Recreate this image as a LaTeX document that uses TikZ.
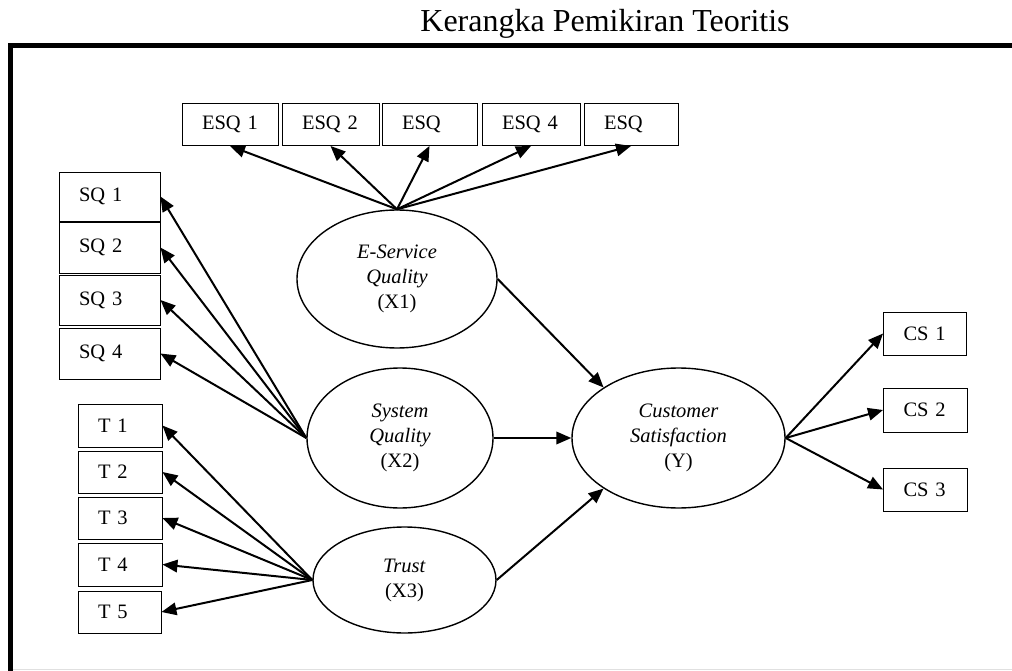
\documentclass[tikz,border=0pt]{standalone}
\usepackage{fontspec}
\setmainfont{Liberation Serif}
\usetikzlibrary{arrows.meta,shapes.geometric}

\begin{document}
\begin{tikzpicture}[x=1pt,y=-1pt,font=\fontsize{20.5}{25}\selectfont,
  box/.style={draw,line width=0.9pt,inner xsep=20pt,inner ysep=0pt,align=left},
  latent/.style={draw,ellipse,line width=1.4pt,inner sep=0pt,align=center},
  link/.style={line width=2pt,-{Triangle[length=15pt,width=12.5pt]}}]
  \useasboundingbox (0,0) rectangle (1012,671);
  \node[anchor=base,font=\fontsize{32}{34}\selectfont] (title) at (605,32)
    {Kerangka Pemikiran Teoritis};
  \draw[line width=5pt] (1012,46) -- (10.5,46) -- (10.5,671);
  \draw[black!12,line width=1.2pt] (13,669.5) -- (1012,669.5);

  \node[box,text width=56pt,minimum height=42pt] (esq1) at (230,124.5) {ESQ 1};
  \node[box,text width=57pt,minimum height=42pt] (esq2) at (330.5,124.5) {ESQ 2};
  \node[box,text width=55pt,minimum height=42pt] (esq3) at (429.5,124.5) {ESQ};
  \node[box,text width=58pt,minimum height=42pt] (esq4) at (531,124.5) {ESQ 4};
  \node[box,text width=54pt,minimum height=42pt] (esq5) at (631,124.5) {ESQ};

  \node[box,text width=61pt,minimum height=49pt] (sq1) at (109.5,196.5) {SQ 1};
  \node[box,text width=61pt,minimum height=51pt] (sq2) at (109.5,247.5) {SQ 2};
  \node[box,text width=61pt,minimum height=50pt] (sq3) at (109.5,300) {SQ 3};
  \node[box,text width=61pt,minimum height=51pt] (sq4) at (109.5,353.5) {SQ 4};

  \node[box,text width=44pt,minimum height=43pt] (t1) at (120,425.5) {T 1};
  \node[box,text width=44pt,minimum height=42pt] (t2) at (120,472) {T 2};
  \node[box,text width=44pt,minimum height=42pt] (t3) at (120,518) {T 3};
  \node[box,text width=44pt,minimum height=43pt] (t4) at (120,564.5) {T 4};
  \node[box,text width=43pt,minimum height=42pt] (t5) at (119.5,612) {T 5};

  \node[box,text width=43pt,minimum height=43pt] (cs1) at (925,333.5) {CS 1};
  \node[box,text width=44pt,minimum height=44pt] (cs2) at (925.5,410) {CS 2};
  \node[box,text width=44pt,minimum height=43pt] (cs3) at (925.5,489.5) {CS 3};

  \node[latent,minimum width=200pt,minimum height=138pt] (eserv) at (397,279)
    {\textit{E-Service}\\\textit{Quality}\\(X1)};
  \node[latent,minimum width=186pt,minimum height=140pt] (sysq) at (400,438)
    {\textit{System}\\\textit{Quality}\\(X2)};
  \node[latent,minimum width=183pt,minimum height=106pt] (trust) at (404.5,580)
    {\textit{Trust}\\(X3)};
  \node[latent,minimum width=213pt,minimum height=140pt] (csat) at (678.5,438)
    {\textit{Customer}\\\textit{Satisfaction}\\(Y)};

  \draw[link] (eserv.north) -- (esq1.south);
  \draw[link] (eserv.north) -- (esq2.south);
  \draw[link] (eserv.north) -- (esq3.south);
  \draw[link] (eserv.north) -- (esq4.south);
  \draw[link] (eserv.north) -- (esq5.south);

  \draw[link] (sysq.west) -- (sq1.east);
  \draw[link] (sysq.west) -- (sq2.east);
  \draw[link] (sysq.west) -- (sq3.east);
  \draw[link] (sysq.west) -- (sq4.east);

  \draw[link] (trust.west) -- (t1.east);
  \draw[link] (trust.west) -- (t2.east);
  \draw[link] (trust.west) -- (t3.east);
  \draw[link] (trust.west) -- (t4.east);
  \draw[link] (trust.west) -- (t5.east);

  \draw[link] (eserv.east) -- (csat.146);
  \draw[link] (sysq.east) -- (csat.west);
  \draw[link] (trust.east) -- (csat.214);

  \draw[link] (csat.east) -- (cs1.west);
  \draw[link] (csat.east) -- (cs2.west);
  \draw[link] (csat.east) -- (cs3.west);
\end{tikzpicture}
\end{document}
